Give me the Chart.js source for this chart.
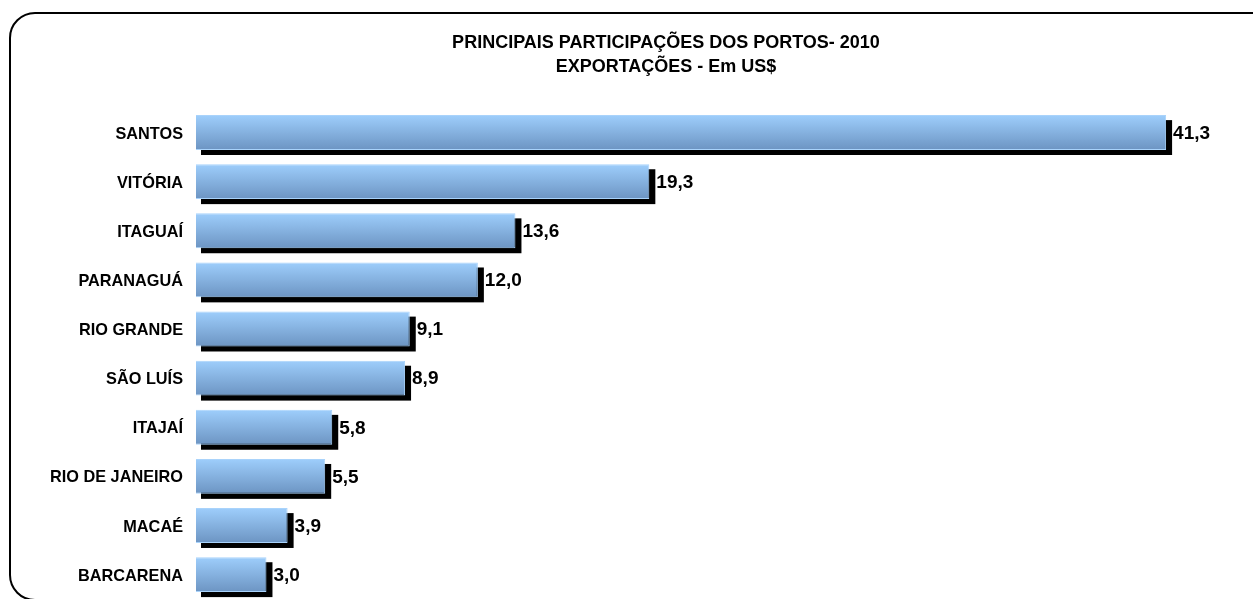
<!DOCTYPE html>
<html>
<head>
<meta charset="utf-8">
<script src="https://cdn.jsdelivr.net/npm/chart.js@4"></script>
<style>
    html, body { margin: 0; padding: 0; background: #fff; overflow: hidden; }
    #wrap { position: relative; width: 1253px; height: 599px; overflow: hidden; }
    #frame {
        position: absolute; left: 9px; top: 12px; width: 1270px; height: 589px;
        border: 2px solid #000; border-radius: 26px; box-sizing: border-box;
    }
    #chart { position: absolute; left: 0; top: 0; }
</style>
</head>
<body>
<div id="wrap">
    <div id="frame"></div>
    <canvas id="chart" width="1253" height="622"></canvas>
</div>
<script>
// Dados do gráfico
const titleLines = ["PRINCIPAIS PARTICIPAÇÕES DOS PORTOS- 2010", "EXPORTAÇÕES - Em US$"];
const ports = ["SANTOS", "VITÓRIA", "ITAGUAÍ", "PARANAGUÁ", "RIO GRANDE", "SÃO LUÍS", "ITAJAÍ", "RIO DE JANEIRO", "MACAÉ", "BARCARENA"];
const shares = [41.3, 19.3, 13.6, 12.0, 9.1, 8.9, 5.8, 5.5, 3.9, 3.0];

const FONT = "'Liberation Sans', Arial, sans-serif";

// Sombra preta atrás das barras
const shadowPlugin = {
    id: "barShadow",
    beforeDatasetsDraw(chart) {
        const ctx = chart.ctx;
        ctx.save();
        ctx.fillStyle = "#000";
        chart.getDatasetMeta(0).data.forEach(bar => {
            const top = bar.y - bar.height / 2;
            ctx.fillRect(bar.base + 5, top + 5, bar.x - bar.base + 1, bar.height);
        });
        ctx.restore();
    }
};

// Rótulos de valor e título
const labelPlugin = {
    id: "labels",
    afterDatasetsDraw(chart) {
        const ctx = chart.ctx;
        ctx.save();
        ctx.fillStyle = "#000";
        ctx.font = "bold 19px " + FONT;
        ctx.textAlign = "left";
        ctx.textBaseline = "middle";
        chart.getDatasetMeta(0).data.forEach((bar, i) => {
            ctx.fillText(shares[i].toFixed(1).replace(".", ","), bar.x + 7, bar.y + 1);
        });

        ctx.font = "bold 18px " + FONT;
        ctx.textAlign = "center";
        ctx.fillText(titleLines[0], 666, 43);
        ctx.fillText(titleLines[1], 666, 67);
        ctx.restore();
    }
};

function barGradient(context) {
    const chart = context.chart;
    if (!chart.chartArea) return "#86b4e6";
    const y = chart.scales.y.getPixelForTick(context.dataIndex);
    const g = chart.ctx.createLinearGradient(0, y - 17, 0, y + 17);
    g.addColorStop(0, "#9dcdfb");
    g.addColorStop(1, "#6d95c3");
    return g;
}

const ctx = document.getElementById("chart").getContext("2d");
new Chart(ctx, {
    type: "bar",
    data: {
        labels: ports,
        datasets: [{
            data: shares,
            backgroundColor: barGradient,
            borderColor: "#a9d3fb",
            borderWidth: 1,
            barPercentage: 0.71,
            categoryPercentage: 1
        }]
    },
    options: {
        indexAxis: "y",
        responsive: false,
        animation: false,
        layout: { padding: { top: 108, left: 0, right: 0, bottom: 0 } },
        plugins: {
            legend: { display: false },
            title: { display: false },
            tooltip: { enabled: false }
        },
        scales: {
            x: {
                display: false,
                min: 0,
                max: 45
            },
            y: {
                grid: { display: false, drawTicks: false },
                border: { display: false },
                afterFit(scale) { scale.width = 196; },
                ticks: {
                    padding: 13,
                    labelOffset: 1.5,
                    color: "#000",
                    font: { family: FONT, size: 16.3, weight: "bold" }
                }
            }
        }
    },
    plugins: [shadowPlugin, labelPlugin]
});
</script>
</body>
</html>
